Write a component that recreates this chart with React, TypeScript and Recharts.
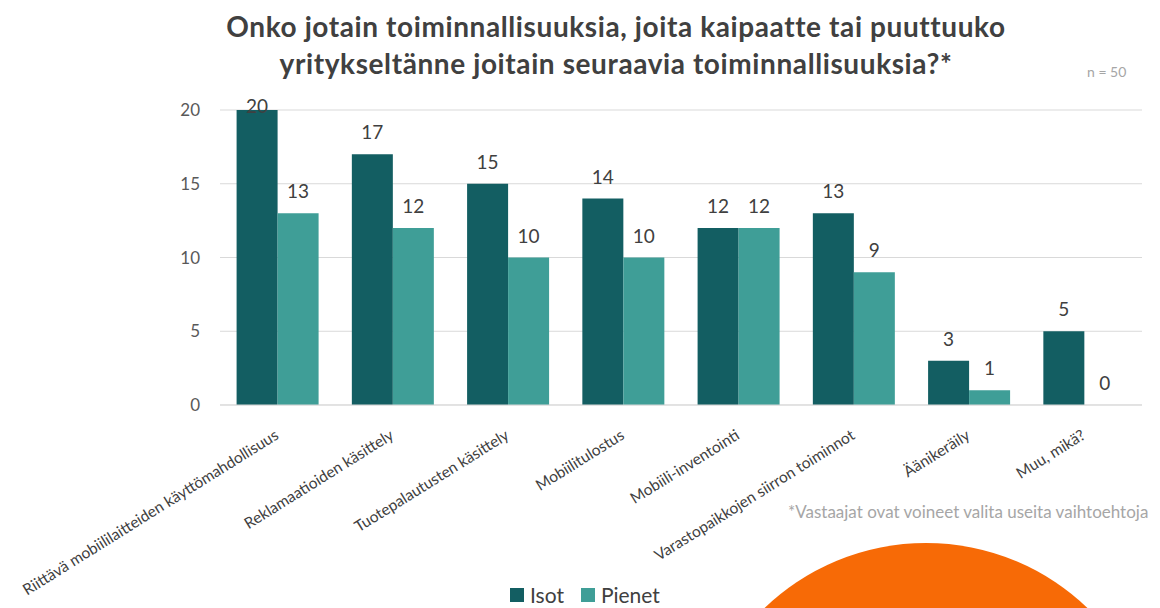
import React from "react";
import { BarChart, Bar, XAxis, YAxis, CartesianGrid, LabelList } from "recharts";

const categories = [
  "Riittävä mobiililaitteiden käyttömahdollisuus",
  "Reklamaatioiden käsittely",
  "Tuotepalautusten käsittely",
  "Mobiilitulostus",
  "Mobiili-inventointi",
  "Varastopaikkojen siirron toiminnot",
  "Äänikeräily",
  "Muu, mikä?",
];
const isot = [20, 17, 15, 14, 12, 13, 3, 5];
const pienet = [13, 12, 10, 10, 12, 9, 1, 0];
const yTicks = [0, 5, 10, 15, 20];
const seriesNames = { isot: "Isot", pienet: "Pienet" };

const data = categories.map((c, i) => ({ name: c, isot: isot[i], pienet: pienet[i] }));

const FONT = "Lato, 'Open Sans', sans-serif";
const C_ISOT = "#135E62";
const C_PIENET = "#3F9E97";
const PLOT_TOP = 110;

const XTick = (props: any) => {
  const { x, y, payload } = props;
  return (
    <text
      transform={`translate(${x + 2},${y + 25}) rotate(-32)`}
      textAnchor="end"
      fontSize={15.5}
      fontFamily={FONT}
      fill="#404040"
    >
      {payload.value}
    </text>
  );
};

const BarLabel = (props: any) => {
  const { x, y, width, value } = props;
  const base = Math.max(y - 15, PLOT_TOP + 3);
  return (
    <text x={x + width / 2} y={base} textAnchor="middle" fontSize={19} fontFamily={FONT} fill="#404040">
      {value}
    </text>
  );
};

const tinyForZero = (value: any) => (value === 0 ? 0.1 : 0);

export default function App() {
  return (
    <div
      style={{
        position: "absolute",
        left: 0,
        top: 0,
        width: 1160,
        height: 608,
        overflow: "hidden",
        background: "#ffffff",
        fontFamily: FONT,
      }}
    >
      <div
        style={{
          position: "absolute",
          left: 926 - 233,
          top: 543,
          width: 466,
          height: 466,
          borderRadius: "50%",
          background: "#F76A06",
        }}
      />
      <div
        style={{
          position: "absolute",
          left: 0,
          width: 1232,
          top: 8,
          textAlign: "center",
          fontSize: 28,
          fontWeight: 700,
          letterSpacing: 0.6,
          color: "#404040",
          lineHeight: "37px",
        }}
      >
        Onko jotain toiminnallisuuksia, joita kaipaatte tai puuttuuko
        <br />
        yritykseltänne joitain seuraavia toiminnallisuuksia?*
      </div>
      <div style={{ position: "absolute", left: 1087, top: 63, fontSize: 14, color: "#A6A6A6" }}>n = 50</div>
      <div style={{ position: "absolute", left: 788, top: 501, fontSize: 17, color: "#A6A6A6", whiteSpace: "nowrap" }}>
        *Vastaajat ovat voineet valita useita vaihtoehtoja
      </div>
      <div
        style={{
          position: "absolute",
          left: 510,
          top: 582,
          display: "flex",
          alignItems: "center",
          fontSize: 21,
          color: "#404040",
        }}
      >
        <span style={{ width: 14, height: 14, background: C_ISOT, display: "inline-block", marginRight: 6 }} />
        <span style={{ marginRight: 17 }}>{seriesNames.isot}</span>
        <span style={{ width: 14, height: 14, background: C_PIENET, display: "inline-block", marginRight: 6 }} />
        <span>{seriesNames.pienet}</span>
      </div>
      <div style={{ position: "absolute", left: 0, top: 0 }}>
        <BarChart
          width={1160}
          height={608}
          data={data}
          margin={{ top: PLOT_TOP, right: 18, left: 0, bottom: 0 }}
          barCategoryGap="14.4%"
          barGap={0}
        >
          <CartesianGrid vertical={false} stroke="#D9D9D9" />
          <XAxis
            dataKey="name"
            height={203}
            interval={0}
            tickLine={false}
            axisLine={{ stroke: "#D9D9D9" }}
            tick={<XTick />}
          />
          <YAxis
            width={220}
            domain={[0, 20]}
            ticks={yTicks}
            tickLine={false}
            axisLine={false}
            tickMargin={14}
            tick={{ fontSize: 17, fill: "#595959", fontFamily: FONT }}
          />
          <Bar dataKey="isot" name={seriesNames.isot} fill={C_ISOT} isAnimationActive={false}>
            <LabelList dataKey="isot" content={<BarLabel />} />
          </Bar>
          <Bar
            dataKey="pienet"
            name={seriesNames.pienet}
            fill={C_PIENET}
            minPointSize={tinyForZero}
            isAnimationActive={false}
          >
            <LabelList dataKey="pienet" content={<BarLabel />} />
          </Bar>
        </BarChart>
      </div>
    </div>
  );
}
